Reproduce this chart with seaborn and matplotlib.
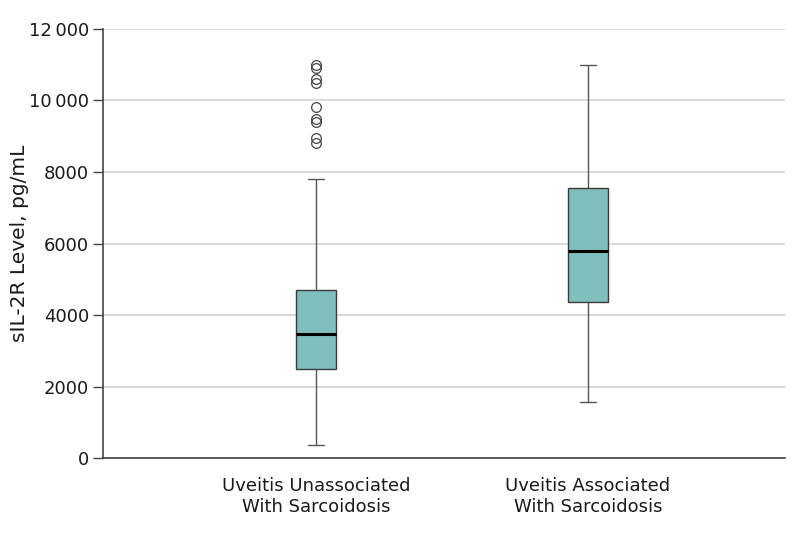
import matplotlib
matplotlib.use("Agg")
import matplotlib.pyplot as plt
import seaborn as sns
import pandas as pd

categories = ["Uveitis Unassociated\nWith Sarcoidosis", "Uveitis Associated\nWith Sarcoidosis"]

unassociated = [360, 900, 1200, 1500, 1700, 1900, 2050, 2200, 2300, 2400,
                2490, 2600, 2750, 2900, 3000, 3100, 3200, 3300, 3380, 3430,
                3480, 3600, 3750, 3850, 4000, 4100, 4250, 4400, 4500, 4600,
                4700, 7800,
                8800, 8950, 9400, 9480, 9820, 10500, 10600, 10900, 11000]

associated = [1560, 2500, 3200, 3700, 4100, 4370, 4700, 5000, 5300, 5600,
              5800, 6100, 6500, 6900, 7300, 7550, 8200, 8900, 9600, 10300, 11000]

ytick_values = [0, 2000, 4000, 6000, 8000, 10000, 12000]
ytick_labels = ["0", "2000", "4000", "6000", "8000", "10\u2009000", "12\u2009000"]

df = pd.DataFrame({
    "group": [categories[0]] * len(unassociated) + [categories[1]] * len(associated),
    "value": unassociated + associated,
})

sns.set_style("white")
plt.rcParams["font.family"] = ["DejaVu Sans"]

fig = plt.figure(figsize=(7.94, 5.35), dpi=100)
ax = fig.add_axes([0.1297, 0.1439, 0.859, 0.8019])

sns.boxplot(data=df, x="group", y="value", order=categories, ax=ax,
            width=0.15, color="#7fbfbd", linecolor="#3a3a3a", linewidth=1.0,
            saturation=1, fliersize=7,
            medianprops=dict(color="black", linewidth=2.2),
            whiskerprops=dict(color="#555555", linewidth=1.0),
            capprops=dict(color="#555555", linewidth=1.0),
            flierprops=dict(marker="o", markerfacecolor="none",
                            markeredgecolor="#444444", markeredgewidth=0.9),
            capwidths=0.06)

ax.set_ylim(0, 12000)
ax.set_xlim(-0.783, 1.724)
ax.set_yticks(ytick_values)
ax.set_yticklabels(ytick_labels)
ax.yaxis.grid(True, color="#d9d9d9", linewidth=1.4)
ax.set_axisbelow(True)
ax.set_xlabel("")
ax.set_ylabel("sIL-2R Level, pg/mL", fontsize=14.5, color="#1a1a1a", labelpad=0)

for s in ["top", "right"]:
    ax.spines[s].set_visible(False)
for s in ["left", "bottom"]:
    ax.spines[s].set_color("#444444")
    ax.spines[s].set_linewidth(1.2)

ax.tick_params(axis="y", which="both", left=True, length=7, width=1.0,
               color="#444444", labelsize=13, labelcolor="#1a1a1a", pad=3)
ax.tick_params(axis="x", bottom=False, labelsize=13, labelcolor="#1a1a1a", pad=10)

fig.savefig("out.png", dpi=100)
